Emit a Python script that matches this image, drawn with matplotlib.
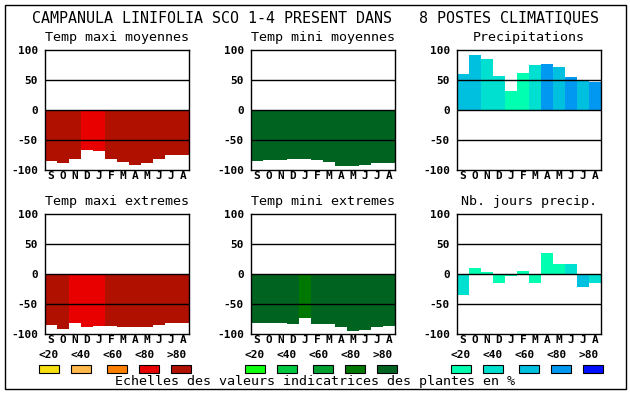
import matplotlib
matplotlib.use('Agg')
import matplotlib.pyplot as plt
from matplotlib.patches import Rectangle

# ---------------- data ----------------
title = "CAMPANULA LINIFOLIA SCO 1-4 PRESENT DANS   8 POSTES CLIMATIQUES"
months = ["S", "O", "N", "D", "J", "F", "M", "A", "M", "J", "J", "A"]
scale_labels = ["<20", "<40", "<60", "<80", ">80"]
caption = "Echelles des valeurs indicatrices des plantes en %"

panel_titles = ["Temp maxi moyennes", "Temp mini moyennes", "Precipitations",
                "Temp maxi extremes", "Temp mini extremes", "Nb. jours precip."]

tmax_moy = [-85, -88, -82, -67, -68, -82, -87, -92, -88, -82, -75, -75]
tmin_moy = [-85, -83, -83, -82, -82, -83, -87, -93, -93, -92, -88, -88]
precip = [60, 92, 85, 57, 32, 62, 75, 77, 72, 55, 50, 47]
tmax_ext = [-85, -92, -82, -88, -87, -87, -88, -88, -88, -85, -82, -82]
tmin_ext = [-82, -82, -82, -83, -73, -83, -83, -88, -95, -93, -88, -87]
nb_jours = [-35, 10, 3, -15, -3, 5, -15, 35, 17, 17, -22, -15]

# class (0..4 => <20 <40 <60 <80 >80) of each bar
tmax_moy_cls = [4, 4, 4, 3, 3, 4, 4, 4, 4, 4, 4, 4]
tmin_moy_cls = [4] * 12
precip_cls = [2, 2, 1, 1, 0, 0, 1, 3, 2, 3, 2, 3]
tmax_ext_cls = [4, 4, 3, 3, 3, 4, 4, 4, 4, 4, 4, 4]
tmin_ext_cls = [4, 4, 4, 4, 3, 4, 4, 4, 4, 4, 4, 4]
nb_jours_cls = [1, 0, 0, 0, 0, 0, 0, 0, 0, 1, 2, 1]

reds = ["#F8E010", "#FFB84C", "#FF8000", "#E80000", "#B01000"]
greens = ["#10FF10", "#00C840", "#00A030", "#007800", "#006420"]
blues = ["#00FFB0", "#00E0D0", "#00C0E0", "#0098F0", "#0010FF"]

# ---------------- layout ----------------
W, H = 630, 394
fig = plt.figure(figsize=(W / 100, H / 100), dpi=100)
fig.patch.set_facecolor("white")
mono = "DejaVu Sans Mono"
tick_fs = 8


def fx(px):
    return px / W


def fy(py):
    return 1 - py / H


def ax_at(x0, y0, w, h):
    return fig.add_axes([fx(x0), fy(y0 + h), w / W, h / H])


panels = [
    (tmax_moy, tmax_moy_cls, reds),
    (tmin_moy, tmin_moy_cls, greens),
    (precip, precip_cls, blues),
    (tmax_ext, tmax_ext_cls, reds),
    (tmin_ext, tmin_ext_cls, greens),
    (nb_jours, nb_jours_cls, blues),
]
lefts = [45, 251, 457]
tops = [50, 214]
aw, ah = 144, 120

for i, (vals, cls, pal) in enumerate(panels):
    r, c = divmod(i, 3)
    x0, y0 = lefts[c], tops[r]
    ax = ax_at(x0, y0, aw, ah)
    xs = list(range(len(months)))
    ax.bar(xs, vals, width=1.0, color=[pal[k] for k in cls], linewidth=0, zorder=1)
    for yv in (50, 0, -50):
        ax.axhline(yv, color="black", lw=1.0, zorder=3)
    ax.set_xlim(-0.5, 11.5)
    ax.set_ylim(-100, 100)
    ax.set_yticks([100, 50, 0, -50, -100])
    ax.set_yticklabels(["100", "50", "0", "-50", "-100"], fontfamily=mono,
                       fontweight="bold", fontsize=tick_fs)
    ax.set_xticks(xs)
    ax.set_xticklabels(months, fontfamily=mono, fontweight="bold", fontsize=tick_fs)
    ax.tick_params(length=0)
    ax.tick_params(axis="y", pad=5)
    ax.tick_params(axis="x", pad=1)
    for s in ax.spines.values():
        s.set_color("black")
        s.set_linewidth(1.0)
    fig.text(fx(x0 + aw / 2), fy(y0 - 12), panel_titles[i], ha="center", va="center",
             fontfamily=mono, fontsize=9.6)
    if r == 1:
        for k, lab in enumerate(scale_labels):
            fig.text(fx(x0 + 4 + 32 * k), fy(355), lab, ha="center", va="center",
                     fontfamily=mono, fontweight="bold", fontsize=tick_fs)

# legend boxes
offsets = [0, 32, 68, 100, 132]
for g0, pal in zip([49, 255, 461], [reds, greens, blues]):
    for off, col in zip(offsets, pal):
        cx = g0 + off
        fig.add_artist(Rectangle((fx(cx - 10), fy(373)), 20 / W, 8 / H,
                                 transform=fig.transFigure, facecolor=col,
                                 edgecolor="black", lw=0.8))

fig.text(fx(315), fy(18), title, ha="center", va="center", fontfamily=mono,
         fontsize=10.8)
fig.text(fx(315), fy(382), caption, ha="center", va="center", fontfamily=mono,
         fontsize=9.6)

# outer frame
fig.add_artist(Rectangle((fx(4.5), fy(389)), (626 - 4.5) / W, (389 - 4.5) / H,
                         transform=fig.transFigure, fill=False, edgecolor="black",
                         lw=1.0))

fig.savefig("out.png", dpi=100)
